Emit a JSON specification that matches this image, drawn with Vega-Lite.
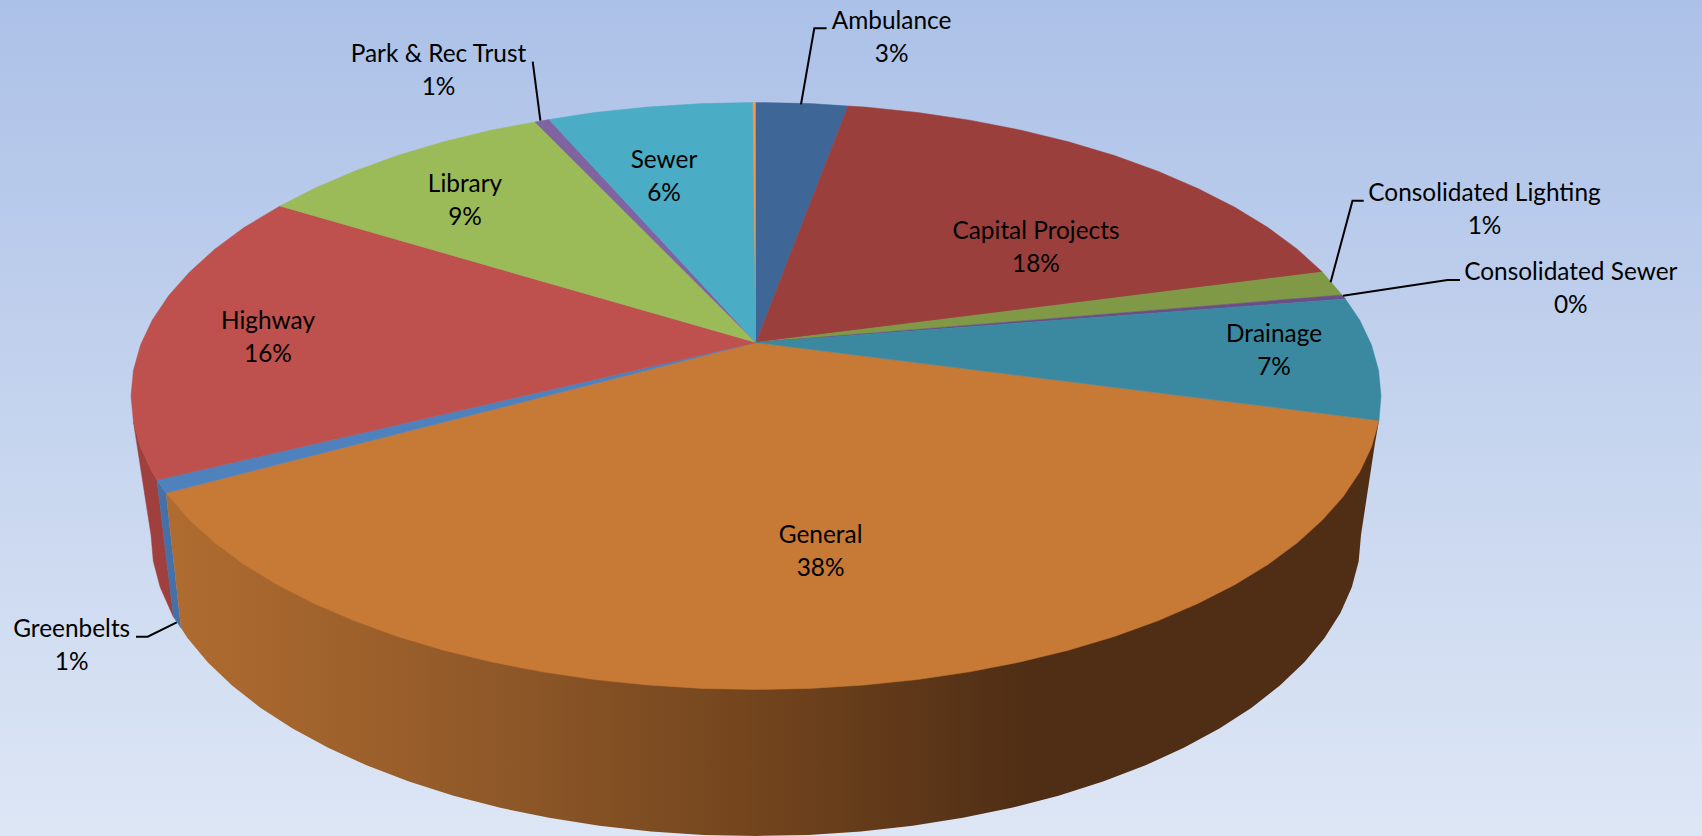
{"$schema":"https://vega.github.io/schema/vega-lite/v6.json","width":1702,"height":836,"padding":0,"autosize":{"type":"fit","contains":"padding"},"background":"#DDE6F5","view":{"stroke":null},
"config":{"text":{"font":"Lato"}},
"resolve":{"scale":{"fill":"independent","stroke":"independent"}},
"datasets":{
"bg":[{"x":0,"x2":1702,"y":0,"y2":836}],
"general_wall":[{"x":1379,"y":420.5},{"x":1375,"y":443},{"x":1361,"y":535},{"x":1358.7,"y":561.2},{"x":1351.8,"y":587.3},{"x":1340.4,"y":612.9},{"x":1324.5,"y":638},{"x":1304.3,"y":662.2},{"x":1279.9,"y":685.5},{"x":1251.6,"y":707.7},{"x":1219.4,"y":728.5},{"x":1183.8,"y":747.8},{"x":1144.9,"y":765.6},{"x":1103,"y":781.6},{"x":1058.5,"y":795.7},{"x":1011.7,"y":807.8},{"x":962.9,"y":817.8},{"x":912.6,"y":825.7},{"x":861,"y":831.4},{"x":808.7,"y":834.9},{"x":756,"y":836},{"x":703.3,"y":834.9},{"x":651,"y":831.4},{"x":599.4,"y":825.7},{"x":549.1,"y":817.8},{"x":500.3,"y":807.8},{"x":453.5,"y":795.7},{"x":409,"y":781.6},{"x":367.1,"y":765.6},{"x":328.2,"y":747.8},{"x":292.6,"y":728.5},{"x":260.4,"y":707.7},{"x":232.1,"y":685.5},{"x":207.7,"y":662.2},{"x":187.5,"y":638},{"x":181,"y":628},{"x":166,"y":493}],
"walls":[
{"slice":"Highway","x":133.4,"y":421.6},{"slice":"Highway","x":140.5,"y":447},{"slice":"Highway","x":152.3,"y":472},{"slice":"Highway","x":157,"y":480},{"slice":"Highway","x":173.5,"y":617},{"slice":"Highway","x":171.6,"y":612.9},{"slice":"Highway","x":160.2,"y":587.3},{"slice":"Highway","x":153.3,"y":561.2},{"slice":"Highway","x":151,"y":535},
{"slice":"Greenbelts","x":157,"y":480},{"slice":"Greenbelts","x":166,"y":493},{"slice":"Greenbelts","x":181,"y":628},{"slice":"Greenbelts","x":173.5,"y":617}],
"slices":[
{"slice":"General","x":756,"y":342.5},{"slice":"General","x":1379,"y":420.5},{"slice":"General","x":1371.5,"y":447},{"slice":"General","x":1359.7,"y":472},{"slice":"General","x":1343.3,"y":496.4},{"slice":"General","x":1322.4,"y":520},{"slice":"General","x":1297.3,"y":542.8},{"slice":"General","x":1268,"y":564.4},{"slice":"General","x":1234.8,"y":584.7},{"slice":"General","x":1197.9,"y":603.5},{"slice":"General","x":1157.8,"y":620.8},{"slice":"General","x":1114.5,"y":636.4},{"slice":"General","x":1068.5,"y":650.2},{"slice":"General","x":1020.1,"y":662},{"slice":"General","x":969.8,"y":671.8},{"slice":"General","x":917.8,"y":679.5},{"slice":"General","x":864.5,"y":685},{"slice":"General","x":810.5,"y":688.4},{"slice":"General","x":756,"y":689.5},{"slice":"General","x":701.5,"y":688.4},{"slice":"General","x":647.5,"y":685},{"slice":"General","x":594.2,"y":679.5},{"slice":"General","x":542.2,"y":671.8},{"slice":"General","x":491.9,"y":662},{"slice":"General","x":443.5,"y":650.2},{"slice":"General","x":397.5,"y":636.4},{"slice":"General","x":354.2,"y":620.8},{"slice":"General","x":314.1,"y":603.5},{"slice":"General","x":277.2,"y":584.7},{"slice":"General","x":244,"y":564.4},{"slice":"General","x":214.7,"y":542.8},{"slice":"General","x":189.6,"y":520},{"slice":"General","x":166,"y":493},
{"slice":"Greenbelts","x":756,"y":342.5},{"slice":"Greenbelts","x":166,"y":493},{"slice":"Greenbelts","x":157,"y":480},
{"slice":"Highway","x":756,"y":342.5},{"slice":"Highway","x":157,"y":480},{"slice":"Highway","x":152.3,"y":472},{"slice":"Highway","x":140.5,"y":447},{"slice":"Highway","x":133.4,"y":421.6},{"slice":"Highway","x":131,"y":396},{"slice":"Highway","x":133.4,"y":370.4},{"slice":"Highway","x":140.5,"y":345},{"slice":"Highway","x":152.3,"y":320},{"slice":"Highway","x":168.7,"y":295.6},{"slice":"Highway","x":189.6,"y":272},{"slice":"Highway","x":214.7,"y":249.2},{"slice":"Highway","x":244,"y":227.6},{"slice":"Highway","x":280,"y":206},
{"slice":"Library","x":756,"y":342.5},{"slice":"Library","x":280,"y":206},{"slice":"Library","x":314.1,"y":188.5},{"slice":"Library","x":354.2,"y":171.2},{"slice":"Library","x":397.5,"y":155.6},{"slice":"Library","x":443.5,"y":141.8},{"slice":"Library","x":491.9,"y":130},{"slice":"Library","x":535,"y":122},
{"slice":"Park & Rec Trust","x":756,"y":342.5},{"slice":"Park & Rec Trust","x":535,"y":122},{"slice":"Park & Rec Trust","x":549,"y":119.5},
{"slice":"Sewer","x":756,"y":342.5},{"slice":"Sewer","x":549,"y":119.5},{"slice":"Sewer","x":594.2,"y":112.5},{"slice":"Sewer","x":647.5,"y":107},{"slice":"Sewer","x":701.5,"y":103.6},{"slice":"Sewer","x":753,"y":102.5},
{"slice":"Other","x":756,"y":342.5},{"slice":"Other","x":753,"y":102.5},{"slice":"Other","x":756,"y":102.5},
{"slice":"Ambulance","x":756,"y":342.5},{"slice":"Ambulance","x":756,"y":102.5},{"slice":"Ambulance","x":810.5,"y":103.6},{"slice":"Ambulance","x":848,"y":106},
{"slice":"Capital Projects","x":756,"y":342.5},{"slice":"Capital Projects","x":848,"y":106},{"slice":"Capital Projects","x":864.5,"y":107},{"slice":"Capital Projects","x":917.8,"y":112.5},{"slice":"Capital Projects","x":969.8,"y":120.2},{"slice":"Capital Projects","x":1020.1,"y":130},{"slice":"Capital Projects","x":1068.5,"y":141.8},{"slice":"Capital Projects","x":1114.5,"y":155.6},{"slice":"Capital Projects","x":1157.8,"y":171.2},{"slice":"Capital Projects","x":1197.9,"y":188.5},{"slice":"Capital Projects","x":1234.8,"y":207.3},{"slice":"Capital Projects","x":1268,"y":227.6},{"slice":"Capital Projects","x":1297.3,"y":249.2},{"slice":"Capital Projects","x":1322.4,"y":272},
{"slice":"Consolidated Lighting","x":756,"y":342.5},{"slice":"Consolidated Lighting","x":1322.4,"y":272},{"slice":"Consolidated Lighting","x":1342,"y":295},
{"slice":"Consolidated Sewer","x":756,"y":342.5},{"slice":"Consolidated Sewer","x":1342,"y":295},{"slice":"Consolidated Sewer","x":1345.4,"y":299},
{"slice":"Drainage","x":756,"y":342.5},{"slice":"Drainage","x":1345.4,"y":299},{"slice":"Drainage","x":1359.7,"y":320},{"slice":"Drainage","x":1371.5,"y":345},{"slice":"Drainage","x":1378.6,"y":370.4},{"slice":"Drainage","x":1381,"y":396},{"slice":"Drainage","x":1379,"y":420.5}],
"leaders":[
{"slice":"Ambulance","x":801,"y":104.3},{"slice":"Ambulance","x":814.3,"y":28.3},{"slice":"Ambulance","x":826.6,"y":28.3},
{"slice":"Park & Rec Trust","x":540.4,"y":120.7},{"slice":"Park & Rec Trust","x":532.7,"y":61.7},
{"slice":"Consolidated Lighting","x":1330.6,"y":282.3},{"slice":"Consolidated Lighting","x":1352.5,"y":200.7},{"slice":"Consolidated Lighting","x":1363.7,"y":200.7},
{"slice":"Consolidated Sewer","x":1343,"y":295.7},{"slice":"Consolidated Sewer","x":1447.5,"y":280},{"slice":"Consolidated Sewer","x":1460,"y":280},
{"slice":"Greenbelts","x":176.7,"y":622.3},{"slice":"Greenbelts","x":147.7,"y":636.7},{"slice":"Greenbelts","x":136,"y":636.7}],
"labels":[
{"label":"Ambulance\n3%","x":891.6,"y":21.5},
{"label":"Park & Rec Trust\n1%","x":438.5,"y":55},
{"label":"Library\n9%","x":465,"y":184.5},
{"label":"Highway\n16%","x":268,"y":321.7},
{"label":"Sewer\n6%","x":664,"y":160.5},
{"label":"Capital Projects\n18%","x":1036,"y":231.5},
{"label":"Consolidated Lighting\n1%","x":1484.5,"y":194},
{"label":"Consolidated Sewer\n0%","x":1570.8,"y":273},
{"label":"Drainage\n7%","x":1274,"y":335},
{"label":"General\n38%","x":820.6,"y":536},
{"label":"Greenbelts\n1%","x":71.7,"y":630}]
},
"encoding":{
"x":{"field":"x","type":"quantitative","axis":null,"scale":{"domain":[0,1702],"nice":false,"zero":false}},
"y":{"field":"y","type":"quantitative","axis":null,"scale":{"domain":[0,836],"reverse":true,"nice":false,"zero":false}}},
"layer":[
{"data":{"name":"bg"},"mark":{"type":"rect","fill":{"gradient":"linear","x1":0,"y1":0,"x2":0,"y2":1,"stops":[{"offset":0,"color":"#ACC1E8"},{"offset":0.5,"color":"#C5D4EE"},{"offset":1,"color":"#DDE6F5"}]}},
"encoding":{"x2":{"field":"x2"},"y2":{"field":"y2"}}},
{"data":{"name":"walls"},"mark":{"type":"line","interpolate":"linear-closed","strokeWidth":0.5},
"encoding":{"order":{"value":null},
"fill":{"field":"slice","type":"nominal","legend":null,"scale":{"domain":["Highway","Greenbelts"],"range":["#9F403E","#4571A8"]}},
"stroke":{"field":"slice","type":"nominal","legend":null,"scale":{"domain":["Highway","Greenbelts"],"range":["#9F403E","#4571A8"]}}}},
{"data":{"name":"general_wall"},"mark":{"type":"line","interpolate":"linear-closed","stroke":null,"fill":{"gradient":"linear","x1":0,"y1":0,"x2":1,"y2":0,"stops":[{"offset":0,"color":"#B06C30"},{"offset":0.275,"color":"#8F5828"},{"offset":0.49,"color":"#72441D"},{"offset":0.71,"color":"#4F2E15"},{"offset":1,"color":"#4F2E15"}]}},
"encoding":{"order":{"value":null}}},
{"data":{"name":"slices"},"mark":{"type":"line","interpolate":"linear-closed","strokeWidth":0.5},
"encoding":{"order":{"value":null},
"fill":{"field":"slice","type":"nominal","legend":null,"scale":{"domain":["General","Greenbelts","Highway","Library","Park & Rec Trust","Sewer","Other","Ambulance","Capital Projects","Consolidated Lighting","Consolidated Sewer","Drainage"],"range":["#C77936","#4F81BD","#BE504D","#9BBB59","#8064A2","#4BACC6","#F79646","#3E6797","#9B3F3D","#7F9946","#6A4F87","#3A89A1"]}},
"stroke":{"field":"slice","type":"nominal","legend":null,"scale":{"domain":["General","Greenbelts","Highway","Library","Park & Rec Trust","Sewer","Other","Ambulance","Capital Projects","Consolidated Lighting","Consolidated Sewer","Drainage"],"range":["#C77936","#4F81BD","#BE504D","#9BBB59","#8064A2","#4BACC6","#F79646","#3E6797","#9B3F3D","#7F9946","#6A4F87","#3A89A1"]}}}},
{"data":{"name":"leaders"},"mark":{"type":"line","color":"#000000","strokeWidth":2},"encoding":{"order":{"value":null},"detail":{"field":"slice"}}},
{"data":{"name":"labels"},"mark":{"type":"text","fontSize":24.4,"font":"Lato","lineBreak":"\n","lineHeight":33,"align":"center","baseline":"middle","color":"#000000"},"encoding":{"text":{"field":"label"}}}
]}
